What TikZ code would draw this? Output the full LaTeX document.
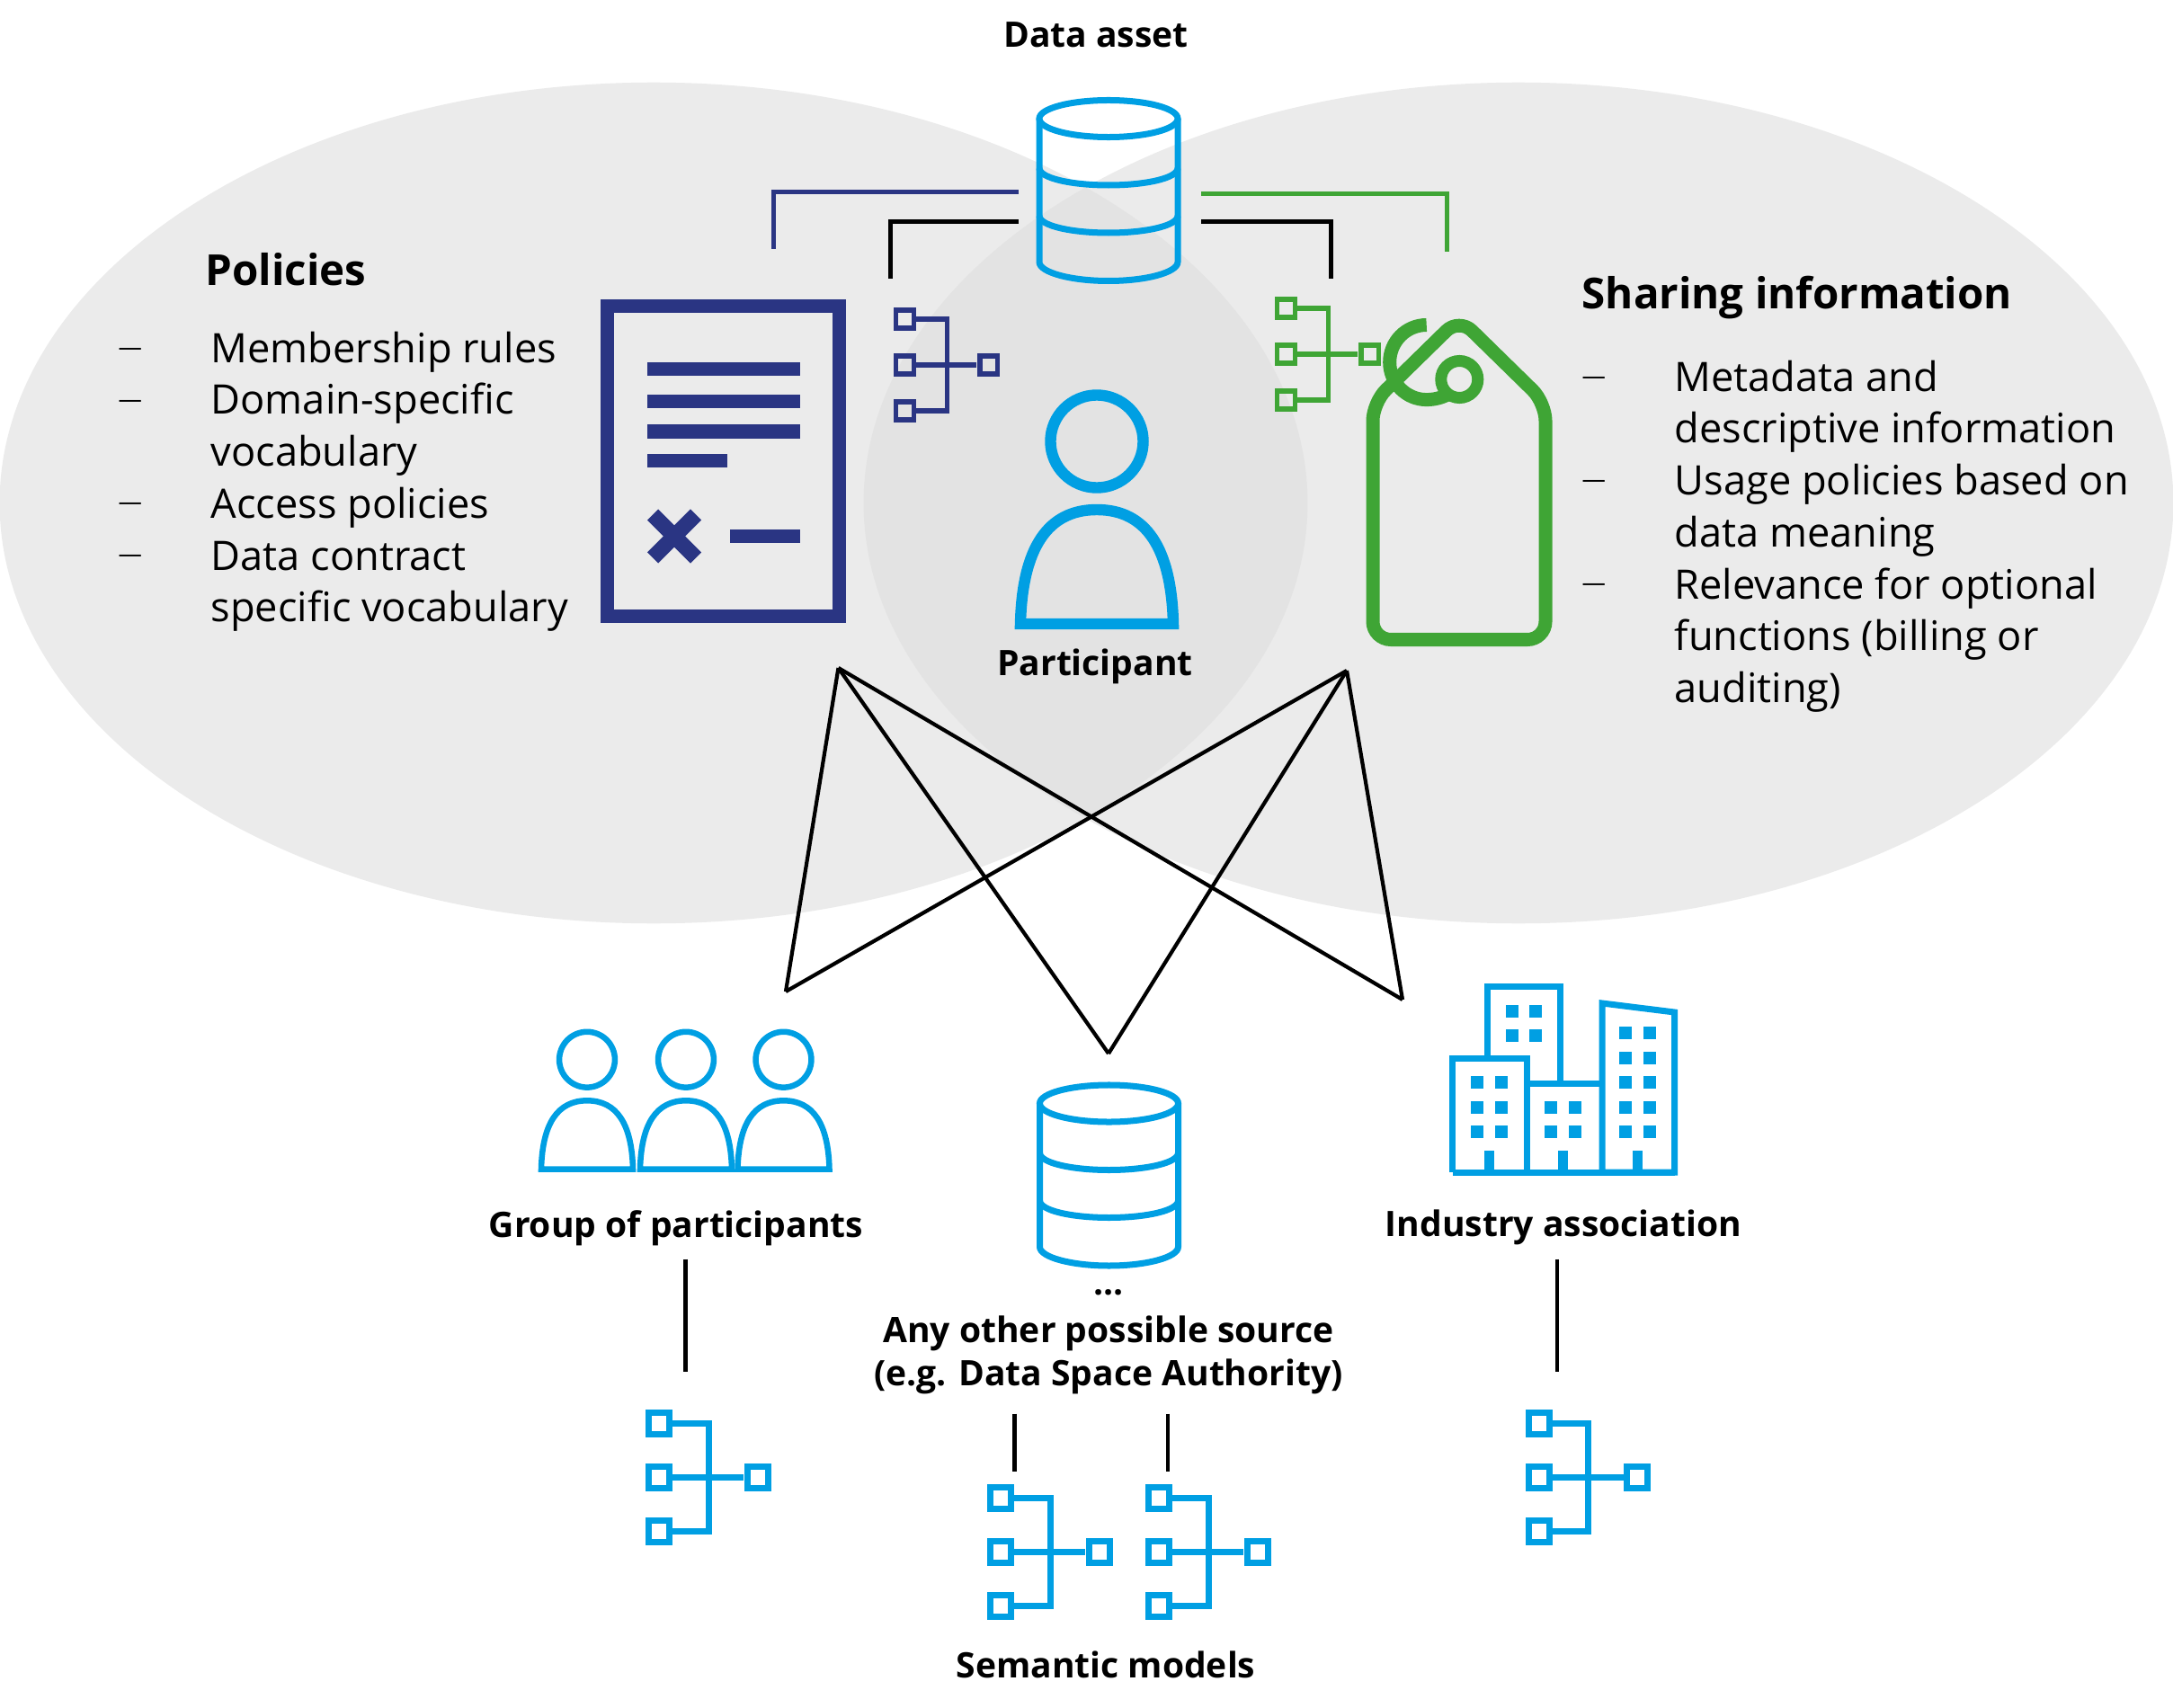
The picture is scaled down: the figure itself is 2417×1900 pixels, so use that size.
\documentclass[tikz,border=0pt]{standalone}
\usepackage{fontspec}
\setmainfont{Open Sans}
\definecolor{navyblue}{HTML}{2A3583}
\definecolor{skyblue}{HTML}{009FE3}
\definecolor{leafgreen}{HTML}{3FA535}
\definecolor{lightgrey}{HTML}{EBEBEB}
\definecolor{midgrey}{HTML}{E3E3E3}
\begin{document}
\begin{tikzpicture}[
		x=0.01cm, y=-0.01cm,
		toplink/.style={line width=0.5mm},
		crossline/.style={line width=0.42mm},
		drop/.style={line width=0.42mm},
		label/.style={font=\fontsize{11.1}{14}\selectfont\bfseries, inner sep=0pt},
		heading/.style={font=\fontsize{13.5}{16}\selectfont\bfseries, inner sep=0pt, anchor=west},
		listtext/.style={font=\fontsize{12.85}{16.42}\selectfont, align=left, inner sep=0pt, anchor=north west},
		listdash/.style={font=\fontsize{7.5}{14}\selectfont, inner sep=0pt, anchor=west},
		model/.pic={
			\foreach \row in {-60,0,60} {
				\draw[pic actions] (-11.5,\row-12) rectangle (11.5,\row+12);
			}
			\draw[pic actions] (15,-60) -- (55,-60) -- (55,60) -- (15,60);
			\draw[pic actions] (15,0) -- (94,0);
			\draw[pic actions] (98,-12) rectangle (121,12);
		},
		person/.pic={
			\draw[pic actions] (0,-203) circle[radius=0.515cm];
			\draw[pic actions] (-85,0) .. controls (-83,-84) and (-55,-127) .. (0,-127) .. controls (55,-127) and (83,-84) .. (85,0) -- cycle;
		},
		database/.pic={
			\draw[pic actions] (0,0) circle[x radius=0.77cm, y radius=0.205cm];
			\foreach \row in {55,108} {
				\draw[pic actions] (-77,\row) .. controls (-77,\row+11) and (-42,\row+19) .. (0,\row+19) .. controls (42,\row+19) and (77,\row+11) .. (77,\row);
			}
			\draw[pic actions] (-77,0) -- (-77,159.5) .. controls (-77,171) and (-42,180.5) .. (0,180.5) .. controls (42,180.5) and (77,171) .. (77,159.5) -- (77,0);
		},
	]
	\useasboundingbox (0,0) rectangle (2417,1900);

	% grey background
	\fill[lightgrey] (727,559.5) circle[x radius=7.27cm, y radius=4.675cm];
	\fill[lightgrey] (1689,559.5) circle[x radius=7.28cm, y radius=4.675cm];
	\begin{scope}
		\clip (727,559.5) circle[x radius=7.27cm, y radius=4.675cm];
		\fill[midgrey] (1689,559.5) circle[x radius=7.28cm, y radius=4.675cm];
	\end{scope}

	% top row
	\pic[draw=skyblue, line width=0.7mm] (asset) at (1233,132) {database};
	\pic[draw=skyblue, line width=1.24mm] (participant) at (1220,694) {person};
	\pic[draw=navyblue, line width=0.55mm, xscale=0.85, yscale=0.85] (policy model) at (1006.5,406) {model};
	\pic[draw=leafgreen, line width=0.55mm, xscale=0.85, yscale=0.85] (sharing model) at (1430.5,394) {model};

	% policy document
	\draw[navyblue, line width=1.5mm] (675.5,340.5) rectangle (933.5,685.5);
	\foreach \row/\rowend in {410.5/890, 446.5/890, 480/890, 512.5/809} {
		\draw[navyblue, line width=1.55mm] (720,\row) -- (\rowend,\row);
	}
	\draw[navyblue, line width=1.7mm] (726,572.5) -- (774,620.5) (774,572.5) -- (726,620.5);
	\draw[navyblue, line width=1.55mm] (812,596.5) -- (890,596.5);

	% tag
	\draw[leafgreen, line width=1.5mm, rounded corners=2mm] (1527,448) -- (1527,711.5) -- (1719,711.5) -- (1719,448) -- (1623,354) -- cycle;
	\draw[leafgreen, line width=1.3mm] (1623.3,422) circle[radius=0.205cm];
	\draw[leafgreen, line width=1.5mm] (1586.7,361.5) .. controls (1564,361.5) and (1545.7,380) .. (1545.7,403) .. controls (1545.7,426) and (1564,444.6) .. (1586.7,444.6) .. controls (1598,444.6) and (1607,441) .. (1614,437);

	% ends of the links
	\coordinate (asset navy) at (1133,213.5);
	\coordinate (asset black left) at (1133,246.5);
	\coordinate (asset black right) at (1336,246.5);
	\coordinate (asset green) at (1336,216);
	\coordinate (policy end) at (860,277);
	\coordinate (policy model end) at (990.5,310);
	\coordinate (sharing model end) at (1480,310);
	\coordinate (sharing end) at (1609,280);
	\draw[toplink, navyblue] (asset navy) -- (asset navy-|policy end) -- (policy end);
	\draw[toplink, black] (asset black left) -- (asset black left-|policy model end) -- (policy model end);
	\draw[toplink, black] (asset black right) -- (asset black right-|sharing model end) -- (sharing model end);
	\draw[toplink, leafgreen] (asset green) -- (asset green-|sharing end) -- (sharing end);

	% crossing lines
	\coordinate (left apex) at (932.5,743);
	\coordinate (right apex) at (1498,746);
	\coordinate (group tip) at (874,1103);
	\coordinate (source tip) at (1233,1172);
	\coordinate (industry tip) at (1560,1112);
	\foreach \apex in {left apex, right apex} {
		\foreach \tip in {group tip, source tip, industry tip} {
			\draw[crossline] (\apex) -- (\tip);
		}
	}

	% lower row
	\foreach \px in {653,763,871.5} {
		\pic[draw=skyblue, line width=0.65mm, scale=0.6] at (\px,1300.5) {person};
	}
	\pic[draw=skyblue, line width=0.7mm] (source) at (1233.5,1227.5) {database};

	% industry buildings
	\draw[skyblue, line width=0.7mm] (1654.5,1177) -- (1654.5,1097) -- (1735,1097) -- (1735,1205);
	\draw[skyblue, line width=0.7mm] (1615.5,1304) -- (1615.5,1177) -- (1698,1177) -- (1698,1304);
	\draw[skyblue, line width=0.7mm] (1698,1205) -- (1782,1205);
	\draw[skyblue, line width=0.7mm] (1782,1304) -- (1782,1116) -- (1862.5,1126) -- (1862.5,1304) -- cycle;
	\draw[skyblue, line width=0.7mm] (1615.5,1304) -- (1862.5,1304);
	\foreach \wx in {1682,1708} {
		\foreach \wy in {1124.5,1152} {
			\fill[skyblue] (\wx-7,\wy-7) rectangle (\wx+7,\wy+7);
		}
	}
	\foreach \wx in {1643,1670} {
		\foreach \wy in {1204,1232,1259} {
			\fill[skyblue] (\wx-7,\wy-7) rectangle (\wx+7,\wy+7);
		}
	}
	\foreach \wx in {1725,1752} {
		\foreach \wy in {1232,1259} {
			\fill[skyblue] (\wx-7,\wy-7) rectangle (\wx+7,\wy+7);
		}
	}
	\foreach \wx in {1808,1835} {
		\foreach \wy in {1149,1176.5,1204,1232,1259} {
			\fill[skyblue] (\wx-7,\wy-7) rectangle (\wx+7,\wy+7);
		}
	}
	\foreach \dx in {1656.5,1738.5,1821.5} {
		\fill[skyblue] (\dx-5.5,1280) rectangle (\dx+5.5,1304);
	}

	% lower models
	\pic[draw=skyblue, line width=0.7mm] (group model) at (733,1643) {model};
	\pic[draw=skyblue, line width=0.7mm] (source model a) at (1113,1726.5) {model};
	\pic[draw=skyblue, line width=0.7mm] (source model b) at (1289,1726.5) {model};
	\pic[draw=skyblue, line width=0.7mm] (industry model) at (1711.5,1643) {model};

	% short lines
	\coordinate (group up) at (762.5,1400.5);
	\coordinate (group down) at (762.5,1525.5);
	\coordinate (industry up) at (1732,1400.5);
	\coordinate (industry down) at (1732,1525.5);
	\coordinate (source a up) at (1128.5,1572.5);
	\coordinate (source a down) at (1128.5,1637);
	\coordinate (source b up) at (1299,1572.5);
	\coordinate (source b down) at (1299,1637);
	\draw[drop] (group up) -- (group down);
	\draw[drop] (industry up) -- (industry down);
	\draw[drop] (source a up) -- (source a down);
	\draw[drop] (source b up) -- (source b down);

	% texts
	\node[label] (asset label) at (1219,39) {Data asset};
	\node[label] (participant label) at (1218,741) {Participant};
	\node[label] (group label) at (752,1366) {Group of participants};
	\node[label] (industry label) at (1739,1365) {Industry association};
	\node[label] (dots label) at (1233,1438) {...};
	\node[label] (source label a) at (1233,1483) {Any other possible source};
	\node[label] (source label b) at (1233,1531) {(e.g. Data Space Authority)};
	\node[label] (models label) at (1230,1852) {Semantic models};

	\node[heading] (policies heading) at (228,300) {Policies};
	\node[heading] (sharing heading) at (1759,331) {Sharing information};

	\node[listtext] (policies list) at (234,368) {Membership rules\\Domain-specific\\vocabulary\\Access policies\\Data contract\\specific vocabulary};
	\node[listtext] (sharing list) at (1862,400) {Metadata and\\descriptive information\\Usage policies based on\\data meaning\\Relevance for optional\\functions (billing or\\auditing)};
	\foreach \row in {391,449,563,621} {
		\node[listdash] at (131,\row) {—};
	}
	\foreach \row in {423,538,653} {
		\node[listdash] at (1759,\row) {—};
	}
\end{tikzpicture}
\end{document}
